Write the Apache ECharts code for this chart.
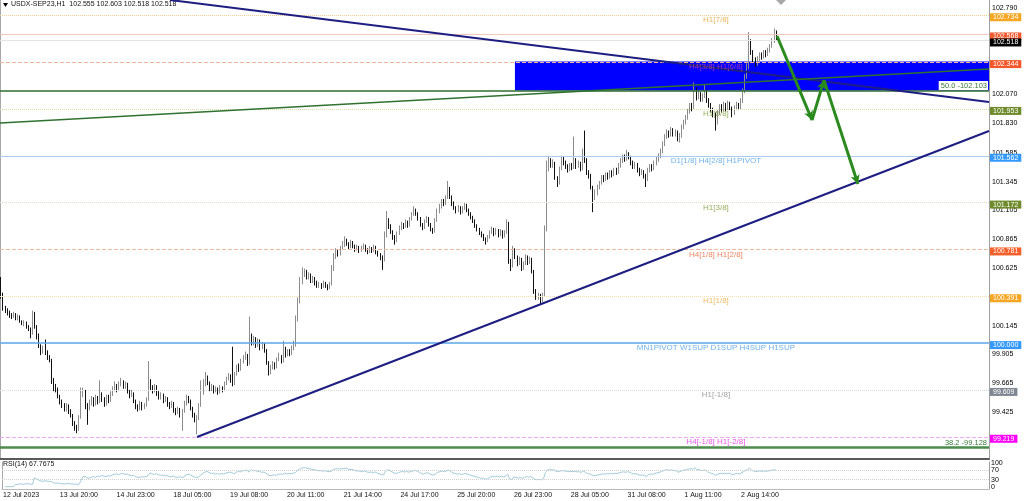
<!DOCTYPE html>
<html>
<head>
<meta charset="utf-8">
<title>USDX-SEP23,H1</title>
<script src="https://cdn.jsdelivr.net/npm/echarts@6/dist/echarts.min.js"></script>
<style>
  html, body { margin: 0; padding: 0; background: #fff; }
  #chart { width: 1024px; height: 501px; }
</style>
</head>
<body>
<div id="chart"></div>
<script>
// H1 bars (open of each bar = previous close)
const firstOpen = 100.53;
const closes = [
  100.40,100.30,100.27,100.25,100.24,100.22,100.24,100.21,100.22,100.18,
  100.16,100.17,100.14,100.12,100.08,100.25,100.14,100.07,99.98,99.93,
  99.95,99.92,99.88,99.86,99.70,99.63,99.62,99.56,99.52,99.48,
  99.46,99.47,99.44,99.40,99.33,99.30,99.28,99.38,99.58,99.60,
  99.47,99.45,99.50,99.53,99.49,99.55,99.51,99.57,99.53,99.49,
  99.55,99.52,99.58,99.62,99.65,99.61,99.66,99.68,99.64,99.66,
  99.60,99.56,99.58,99.52,99.47,99.45,99.50,99.46,99.48,99.53,
  99.68,99.63,99.60,99.64,99.58,99.55,99.57,99.52,99.54,99.49,
  99.47,99.50,99.44,99.42,99.45,99.40,99.43,99.50,99.55,99.52,
  99.46,99.40,99.37,99.38,99.48,99.58,99.66,99.72,99.67,99.62,
  99.64,99.60,99.62,99.59,99.63,99.61,99.66,99.70,99.72,99.69,
  99.66,99.74,99.80,99.78,99.85,99.88,99.90,99.83,100.06,100.00,
  100.04,99.98,100.02,99.96,99.99,99.94,99.84,99.76,99.80,99.82,
  99.80,99.86,99.89,99.85,99.95,99.90,99.93,99.91,99.96,99.99,
  100.20,100.35,100.52,100.58,100.60,100.55,100.57,100.52,100.54,100.50,
  100.48,100.49,100.47,100.50,100.48,100.46,100.49,100.62,100.72,100.76,
  100.74,100.79,100.82,100.86,100.83,100.80,100.84,100.81,100.78,100.80,
  100.77,100.79,100.81,100.78,100.76,100.79,100.77,100.80,100.76,100.74,
  100.71,100.70,100.90,101.02,100.98,100.93,100.88,100.85,100.91,100.96,
  100.99,100.97,101.01,100.98,101.03,101.07,101.11,101.08,101.04,100.99,
  100.96,101.01,101.04,100.99,100.95,100.93,101.02,101.10,101.14,101.18,
  101.16,101.21,101.28,101.22,101.16,101.13,101.10,101.13,101.09,101.12,
  101.15,101.11,101.08,101.05,101.02,100.98,100.95,100.92,100.90,100.87,
  100.85,100.88,100.92,100.95,100.91,100.94,100.90,100.93,100.89,100.92,
  101.00,100.68,100.64,100.78,100.72,100.66,100.70,100.62,100.66,100.72,
  100.67,100.70,100.60,100.43,100.38,100.40,100.36,100.40,100.95,101.45,
  101.52,101.48,101.50,101.38,101.33,101.45,101.53,101.50,101.47,101.44,
  101.48,101.46,101.52,101.47,101.50,101.45,101.60,101.52,101.42,101.40,
  101.30,101.22,101.25,101.30,101.33,101.38,101.36,101.40,101.38,101.42,
  101.40,101.44,101.42,101.48,101.52,101.55,101.53,101.57,101.55,101.50,
  101.47,101.49,101.44,101.41,101.43,101.39,101.36,101.44,101.47,101.45,
  101.50,101.53,101.56,101.60,101.66,101.72,101.75,101.73,101.77,101.74,
  101.76,101.70,101.73,101.80,101.84,101.88,101.93,101.98,101.96,102.12,
  102.05,102.08,102.03,102.06,102.10,102.02,101.98,101.94,101.90,101.84,
  101.92,101.97,101.94,101.99,101.95,102.00,101.96,101.92,101.96,101.99,
  101.96,102.02,102.10,102.22,102.30,102.52,102.42,102.36,102.33,102.37,
  102.40,102.38,102.42,102.40,102.44,102.47,102.52,102.555,102.518
];
const highs = [
  100.55,100.42,100.31,100.29,100.27,100.25,100.26,100.25,100.24,100.23,
  100.19,100.19,100.18,100.15,100.13,100.27,100.26,100.15,100.08,99.99,
  99.98,100.03,99.94,99.90,99.87,99.71,99.66,99.63,99.57,99.53,
  99.50,99.50,99.49,99.45,99.41,99.35,99.32,99.40,99.63,99.63,
  99.61,99.50,99.53,99.56,99.55,99.57,99.56,99.69,99.59,99.55,
  99.57,99.57,99.60,99.64,99.68,99.66,99.68,99.71,99.69,99.68,
  99.67,99.61,99.61,99.59,99.53,99.49,99.52,99.51,99.50,99.55,
  99.85,99.70,99.65,99.66,99.65,99.60,99.59,99.58,99.56,99.55,
  99.51,99.52,99.51,99.46,99.47,99.46,99.45,99.52,99.57,99.56,
  99.53,99.47,99.42,99.40,99.50,99.69,99.70,99.76,99.73,99.68,
  99.66,99.65,99.64,99.63,99.65,99.64,99.68,99.72,99.75,99.74,
  99.97,99.76,99.82,99.83,99.87,99.90,99.93,99.91,100.22,100.08,
  100.06,100.05,100.04,100.03,100.01,100.00,99.95,99.85,99.82,99.85,
  99.84,99.88,99.92,99.90,100.02,99.97,99.95,99.95,99.98,100.02,
  100.23,100.38,100.55,100.63,100.62,100.61,100.59,100.58,100.56,100.55,
  100.52,100.51,100.50,100.52,100.51,100.49,100.51,100.65,100.75,100.79,
  100.78,100.81,100.85,100.89,100.87,100.84,100.86,100.85,100.82,100.82,
  100.81,100.81,100.83,100.82,100.79,100.81,100.80,100.82,100.81,100.77,
  100.75,100.73,100.93,101.10,101.04,100.99,100.94,100.90,100.93,100.98,
  101.01,101.00,101.03,101.02,101.05,101.09,101.14,101.12,101.09,101.05,
  101.00,101.03,101.06,101.05,101.00,100.96,101.04,101.12,101.16,101.20,
  101.20,101.23,101.35,101.30,101.23,101.18,101.14,101.15,101.14,101.14,
  101.17,101.16,101.12,101.09,101.06,101.03,100.99,100.96,100.93,100.91,
  100.88,100.90,100.94,100.97,100.96,100.96,100.95,100.95,100.94,100.94,
  101.03,101.01,100.70,100.81,100.79,100.73,100.72,100.71,100.68,100.74,
  100.73,100.72,100.71,100.61,100.45,100.42,100.41,100.42,100.98,101.52,
  101.56,101.54,101.53,101.51,101.39,101.47,101.56,101.55,101.52,101.49,
  101.50,101.50,101.72,101.54,101.52,101.51,101.62,101.77,101.54,101.44,
  101.41,101.31,101.28,101.32,101.35,101.40,101.40,101.42,101.42,101.44,
  101.44,101.46,101.46,101.50,101.54,101.57,101.57,101.61,101.59,101.56,
  101.52,101.51,101.50,101.46,101.45,101.44,101.41,101.46,101.49,101.49,
  101.52,101.55,101.58,101.62,101.68,101.74,101.78,101.77,101.80,101.79,
  101.78,101.77,101.75,101.82,101.86,101.90,101.95,102.00,102.00,102.17,
  102.13,102.10,102.09,102.08,102.15,102.11,102.04,102.00,101.96,101.92,
  101.94,101.99,101.99,102.01,102.00,102.02,102.01,101.97,101.98,102.01,
  102.00,102.04,102.12,102.24,102.33,102.59,102.53,102.44,102.38,102.39,
  102.42,102.42,102.44,102.44,102.46,102.49,102.54,102.62,102.603
];
const lows = [
  100.37,100.27,100.25,100.23,100.21,100.20,100.21,100.19,100.19,100.17,
  100.15,100.14,100.12,100.10,100.04,100.07,100.12,100.03,99.96,99.90,
  99.91,99.90,99.86,99.84,99.66,99.60,99.59,99.54,99.49,99.46,
  99.43,99.43,99.41,99.38,99.31,99.27,99.25,99.27,99.37,99.55,
  99.45,99.32,99.44,99.48,99.47,99.48,99.49,99.50,99.51,99.47,
  99.48,99.50,99.51,99.56,99.60,99.59,99.60,99.64,99.62,99.62,
  99.58,99.54,99.55,99.50,99.45,99.43,99.44,99.44,99.45,99.47,
  99.52,99.61,99.58,99.59,99.56,99.53,99.53,99.50,99.51,99.47,
  99.45,99.46,99.42,99.40,99.41,99.38,99.27,99.42,99.48,99.50,
  99.44,99.38,99.34,99.24,99.36,99.47,99.57,99.64,99.65,99.60,
  99.60,99.58,99.59,99.57,99.58,99.59,99.60,99.65,99.69,99.67,
  99.64,99.65,99.73,99.76,99.77,99.83,99.86,99.81,99.82,99.98,
  99.98,99.96,99.97,99.94,99.95,99.92,99.82,99.73,99.74,99.78,
  99.78,99.79,99.85,99.83,99.84,99.88,99.89,99.89,99.90,99.94,
  99.97,100.18,100.33,100.49,100.55,100.53,100.53,100.50,100.50,100.48,
  100.46,100.46,100.45,100.46,100.46,100.44,100.45,100.48,100.60,100.70,
  100.72,100.73,100.78,100.80,100.81,100.78,100.79,100.79,100.76,100.77,
  100.75,100.76,100.78,100.76,100.74,100.75,100.75,100.76,100.74,100.72,
  100.69,100.61,100.68,100.88,100.95,100.91,100.86,100.82,100.84,100.90,
  100.94,100.95,100.96,100.96,100.97,101.02,101.06,101.06,101.02,100.97,
  100.94,100.95,101.00,100.97,100.93,100.91,100.92,101.01,101.08,101.12,
  101.14,101.15,101.20,101.20,101.14,101.11,101.08,101.09,101.07,101.08,
  101.11,101.09,101.06,101.03,101.00,100.96,100.93,100.90,100.88,100.85,
  100.82,100.84,100.87,100.91,100.89,100.90,100.88,100.89,100.87,100.88,
  100.91,100.66,100.60,100.63,100.70,100.64,100.65,100.60,100.61,100.65,
  100.65,100.66,100.58,100.41,100.36,100.36,100.32,100.34,100.39,100.93,
  101.43,101.46,101.46,101.36,101.30,101.32,101.44,101.48,101.45,101.42,
  101.43,101.44,101.45,101.45,101.46,101.43,101.44,101.50,101.40,101.37,
  101.28,101.09,101.19,101.23,101.28,101.32,101.34,101.35,101.36,101.37,
  101.38,101.39,101.40,101.41,101.46,101.50,101.51,101.52,101.53,101.48,
  101.45,101.45,101.42,101.39,101.40,101.37,101.30,101.35,101.42,101.43,
  101.44,101.48,101.51,101.54,101.58,101.64,101.70,101.71,101.72,101.72,
  101.72,101.68,101.67,101.71,101.78,101.82,101.86,101.91,101.93,101.95,
  102.02,102.03,102.01,102.01,102.04,102.00,101.96,101.92,101.88,101.77,
  101.82,101.90,101.92,101.93,101.93,101.94,101.94,101.88,101.90,101.94,
  101.94,101.95,102.00,102.08,102.20,102.28,102.40,102.34,102.30,102.31,
  102.35,102.36,102.37,102.38,102.39,102.42,102.46,102.50,102.518
];

// axis labels
const priceTicks = [102.790, 102.070, 101.830, 101.585, 101.345, 101.105, 100.865, 100.625,
                    100.145, 99.905, 99.665, 99.425];
const timeLabels = ['12 Jul 2023', '13 Jul 20:00', '14 Jul 23:00', '18 Jul 05:00', '19 Jul 08:00',
                    '20 Jul 11:00', '21 Jul 14:00', '24 Jul 17:00', '25 Jul 20:00', '26 Jul 23:00',
                    '28 Jul 05:00', '31 Jul 08:00', '1 Aug 11:00', '2 Aug 14:00'];
const timeLabelBars = [0, 27, 54, 81, 108, 135, 162, 189, 216, 243, 270, 297, 324, 351];
const rsiTicks = [0, 30, 70, 100];
const rsiLevels = [70, 30];

// murrey / pivot levels
const levelPrices = [102.734, 102.568, 102.518, 102.344, 101.953, 101.562, 101.172, 100.781,
                     100.391, 100.000, 99.609, 99.219];
const levelNames = ['H1[7/8]', '', '', 'H4[3/8] H1[6/8]', 'H1[5/8]', 'D1[1/8] H4[2/8] H1PIVOT',
                    'H1[3/8]', 'H4[1/8] H1[2/8]', 'H1[1/8]', 'MN1PIVOT W1SUP D1SUP H4SUP H1SUP',
                    'H1[-1/8]', 'H4[-1/8] H1[-2/8]'];
const levelTextBar = 339.3;

// fibo levels, blue zone, trend lines, forecast path (bar index, price)
const fiboLevels = [[50.0, 102.103], [38.2, 99.128]];
const zone = {fromBar: 243.9, top: 102.344, bottom: 102.103};
const trendLines = [
  [[80.2, 102.857], [468.9, 102.007]],
  [[93.0, 99.218], [468.9, 101.766]]
];
const channelLine = [[-0.5, 101.832], [468.9, 102.282]];
const forecast = [[368.3, 102.557], [384.9, 101.857], [390.6, 102.190], [406.7, 101.325]];

const FONT = "'Liberation Sans', Arial, sans-serif";
const xMin = -0.5, xMax = 468.9;

const levelStyle = [
  {line: '#f2cf90', type: 'dotted', box: '#f5a623', text: '#e4a236'},
  {line: '#f2c6bc', type: 'solid',  box: '#f2582c', text: '#000'},
  {line: '#e4e4e4', type: 'solid',  box: '#000000', text: '#000'},
  {line: '#f0b49c', type: 'dashed', box: '#f2582c', text: '#c8489a'},
  {line: '#d6dbaa', type: 'dotted', box: '#6f8b2c', text: '#7d9a34'},
  {line: '#a9cdee', type: 'solid',  box: '#3399ff', text: '#4c9fe2'},
  {line: '#e4dcc0', type: 'dotted', box: '#6f8b2c', text: '#7d9a34'},
  {line: '#f0b89c', type: 'dashed', box: '#f5602a', text: '#e8663a'},
  {line: '#f6dcb0', type: 'dotted', box: '#f5a623', text: '#e8a838'},
  {line: '#5aa6e8', type: 'solid',  box: '#3399ff', text: '#4c9fe2'},
  {line: '#d8d8d8', type: 'dotted', box: '#7f8892', text: '#8a8a8a'},
  {line: '#f0a8f0', type: 'dashed', box: '#ff00ff', text: '#e030e0'}
];

function wilderRsi(values, period) {
  const out = [null];
  let avgGain = 0, avgLoss = 0;
  for (let i = 1; i < values.length; i++) {
    const d = values[i] - values[i - 1];
    const g = d > 0 ? d : 0;
    const l = d < 0 ? -d : 0;
    const n = Math.min(i, period);
    avgGain = (avgGain * (n - 1) + g) / n;
    avgLoss = (avgLoss * (n - 1) + l) / n;
    out.push(avgLoss === 0 ? 100 : 100 - 100 / (1 + avgGain / avgLoss));
  }
  return out;
}

const bars = closes.map((c, i) => [i, i === 0 ? firstOpen : closes[i - 1], c, lows[i], highs[i]]);
const rsi = wilderRsi(closes, 14);

const levelLines = levelPrices.map((p, i) => ({
  yAxis: p,
  lineStyle: {color: levelStyle[i].line, type: levelStyle[i].type, width: i === 9 ? 1.5 : 1},
  label: {
    show: true, position: 'end', distance: 1, offset: [0, 2],
    formatter: p.toFixed(3), color: '#fff', backgroundColor: levelStyle[i].box,
    padding: [1, 3, 0, 3], fontSize: 7, fontFamily: FONT
  }
}));

const fiboLines = fiboLevels.map((f, i) => ({
  yAxis: f[1],
  lineStyle: {color: i === 0 ? '#2f6f2f' : '#4b8b4b', width: i === 0 ? 1.5 : 2.5, type: 'solid'},
  label: {
    show: true, position: 'insideEndTop', distance: 1,
    formatter: f[0].toFixed(1) + ' -' + f[1].toFixed(3),
    color: '#3a7a3a', fontSize: 7.5, fontFamily: FONT,
    backgroundColor: i === 0 ? '#fff' : 'transparent', padding: [1, 1, 0, 2]
  }
}));

const trendData = trendLines.map(t => [
  {coord: t[0], lineStyle: {color: '#1e1e82', width: 2, type: 'solid'}},
  {coord: t[1]}
]);
trendData.push([{coord: channelLine[0], lineStyle: {color: '#2f722f', width: 1.5, type: 'solid'}},
                {coord: channelLine[1]}]);
for (let k = 0; k < forecast.length - 1; k++) {
  trendData.push([
    {coord: forecast[k], symbol: 'none', lineStyle: {color: '#2a8a1e', width: 3, type: 'solid'}},
    {coord: forecast[k + 1], symbol: 'arrow', symbolSize: [7, 9]}
  ]);
}

const textData = levelNames.map((n, i) => n ? {
  name: n, value: [levelTextBar, levelPrices[i]], label: {color: levelStyle[i].text}
} : null).filter(Boolean);

const chart = echarts.init(document.getElementById('chart'), null, {renderer: 'canvas'});
chart.setOption({
  animation: false,
  backgroundColor: '#fff',
  textStyle: {fontFamily: FONT},
  grid: [
    {left: 0, right: 35, top: 0, height: 459},
    {left: 0, right: 35, top: 462, height: 27}
  ],
  xAxis: [
    {type: 'value', gridIndex: 0, min: xMin, max: xMax,
     axisLine: {show: true, onZero: false, lineStyle: {color: '#5a5a5a', width: 2}},
     axisTick: {show: false}, axisLabel: {show: false}, splitLine: {show: false}},
    {type: 'value', gridIndex: 1, min: xMin, max: xMax,
     axisLine: {show: true, onZero: false, lineStyle: {color: '#b8b8b8'}},
     axisTick: {show: false}, splitLine: {show: false},
     axisLabel: {customValues: timeLabelBars, hideOverlap: false,
                 formatter: v => timeLabels[timeLabelBars.indexOf(Math.round(v))] || '',
                 align: 'left', fontSize: 7, color: '#111', margin: 3, fontFamily: FONT}}
  ],
  yAxis: [
    {type: 'value', gridIndex: 0, position: 'right', min: 99.035, max: 102.857,
     axisLine: {show: true, onZero: false, lineStyle: {color: '#a0a0a0'}},
     axisTick: {show: false}, splitLine: {show: false},
     axisLabel: {customValues: priceTicks, formatter: v => v.toFixed(3),
                 fontSize: 7, color: '#000', margin: 3, fontFamily: FONT}},
    {type: 'value', gridIndex: 0, position: 'left', min: 0, max: 1,
     axisLine: {show: true, onZero: false, lineStyle: {color: '#a8a8a8'}},
     axisTick: {show: false}, axisLabel: {show: false}, splitLine: {show: false}},
    {type: 'value', gridIndex: 1, position: 'right', min: -10, max: 105,
     axisLine: {show: true, onZero: false, lineStyle: {color: '#a0a0a0'}},
     axisTick: {show: false}, splitLine: {show: false},
     axisLabel: {customValues: rsiTicks, fontSize: 7, color: '#000', margin: 2, fontFamily: FONT}},
    {type: 'value', gridIndex: 1, position: 'left', min: 0, max: 1,
     axisLine: {show: true, onZero: false, lineStyle: {color: '#a8a8a8'}},
     axisTick: {show: false}, axisLabel: {show: false}, splitLine: {show: false}}
  ],
  series: [
    {
      name: 'zone', type: 'line', xAxisIndex: 0, yAxisIndex: 0, data: [], z: 1, silent: true,
      markArea: {silent: true, itemStyle: {color: '#0000ff'},
        data: [[{coord: [zone.fromBar, zone.top]}, {coord: [xMax, zone.bottom]}]]}
    },
    {
      name: 'levels', type: 'line', xAxisIndex: 0, yAxisIndex: 0, data: [], z: 2, clip: false, silent: true,
      markLine: {silent: true, symbol: 'none', animation: false, data: levelLines.concat(fiboLines)}
    },
    {
      name: 'USDX-SEP23,H1', type: 'candlestick', xAxisIndex: 0, yAxisIndex: 0, z: 3,
      data: bars, encode: {x: 0, y: [1, 2, 3, 4]}, barWidth: 1.2,
      itemStyle: {color: '#c4c4c4', color0: '#111', borderColor: '#8c8c8c', borderColor0: '#111', borderWidth: 1}
    },
    {
      name: 'trend', type: 'line', xAxisIndex: 0, yAxisIndex: 0, data: [], z: 4, silent: true,
      markLine: {silent: true, symbol: 'none', animation: false, label: {show: false},
        lineStyle: {type: 'solid'}, data: trendData}
    },
    {
      name: 'levelText', type: 'scatter', xAxisIndex: 0, yAxisIndex: 0, z: 5, silent: true,
      symbolSize: 0, data: textData,
      label: {show: true, position: 'bottom', distance: 1, formatter: '{b}', fontSize: 8, fontFamily: FONT}
    },
    {
      name: 'RSI(14)', type: 'line', xAxisIndex: 1, yAxisIndex: 2, z: 3,
      data: rsi.map((v, i) => [i, v]), symbol: 'none', connectNulls: false,
      lineStyle: {color: '#a4cadb', width: 1},
      markLine: {silent: true, symbol: 'none', label: {show: false},
        lineStyle: {color: '#cfcfcf', type: 'dotted', width: 1},
        data: rsiLevels.map(v => ({yAxis: v}))}
    }
  ],
  graphic: [
    {type: 'polygon', shape: {points: [[3, 3], [8, 3], [5.5, 7]]}, style: {fill: '#000'}},
    {type: 'text', left: 11, top: 1, style: {text: 'USDX-SEP23,H1  102.555 102.603 102.518 102.518',
      fontSize: 7, fill: '#111', fontFamily: FONT}},
    {type: 'text', left: 3, top: 461, style: {text: 'RSI(14) 67.7675', fontSize: 7, fill: '#111', fontFamily: FONT}},
    {type: 'polygon', shape: {points: [[776, 0], [786, 0], [781, 5]]}, style: {fill: '#a8a8a8'}}
  ]
});
</script>
</body>
</html>
